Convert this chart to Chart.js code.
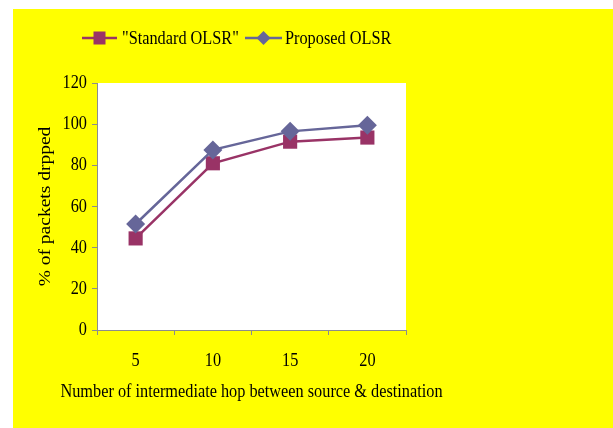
<!DOCTYPE html>
<html>
<head>
<meta charset="utf-8">
<script src="https://cdn.jsdelivr.net/npm/chart.js@4/dist/chart.umd.min.js"></script>
<style>
  html, body { margin: 0; padding: 0; background: #ffffff; }
  canvas { display: block; }
</style>
</head>
<body>
<canvas id="chart" width="613" height="428"></canvas>
<script>
// Hop counts on the x axis
const hops = ['5', '10', '15', '20'];
// % of packets dropped per series
const standardOlsr = [44.5, 81, 91.5, 93.5];
const proposedOlsr = [51.5, 87.5, 96.5, 99.5];
// Series names
const seriesNames = ['"Standard OLSR"', 'Proposed OLSR'];
// Y axis range
const yMin = 0, yMax = 120, yStep = 20;

const STD_COLOR = '#993366';
const PROP_COLOR = '#666699';
const AXIS_COLOR = '#8c8c8c';
const FONT = { family: '"Liberation Serif", "Times New Roman", serif', size: 19.5 };
const SQUEEZE = 0.835; // horizontal squeeze for the narrow serif look

const canvas = document.getElementById('chart');
const ctx2d = canvas.getContext('2d');

// Condensed text: every string is squeezed horizontally around its anchor point
// (in page space, so rotated titles get thinner glyphs rather than shorter text).
const baseFillText = CanvasRenderingContext2D.prototype.fillText;
ctx2d.fillText = function (text, x, y) {
  const t = this.getTransform();
  const px = t.a * x + t.c * y + t.e;
  this.save();
  this.setTransform(new DOMMatrix().translate(px, 0).scale(SQUEEZE, 1).translate(-px, 0).multiply(t));
  baseFillText.call(this, text, x, y);
  this.restore();
};

// Page, yellow panel and white plot area
const backgroundPlugin = {
  id: 'panels',
  beforeDraw(chart) {
    const { ctx, chartArea } = chart;
    ctx.save();
    ctx.fillStyle = '#ffffff';
    ctx.fillRect(0, 0, chart.width, chart.height);
    ctx.fillStyle = '#ffff00';
    ctx.fillRect(13, 9, chart.width - 13, chart.height - 9);
    ctx.fillStyle = '#ffffff';
    ctx.fillRect(chartArea.left, chartArea.top,
                 chartArea.right - chartArea.left, chartArea.bottom - chartArea.top);
    ctx.restore();
  }
};

// Line-and-marker legend across the top
const legendPlugin = {
  id: 'lineLegend',
  afterDraw(chart) {
    const { ctx } = chart;
    const y = 38;
    ctx.save();
    ctx.lineWidth = 2.5;
    // Standard OLSR entry
    ctx.strokeStyle = STD_COLOR;
    ctx.beginPath(); ctx.moveTo(82, y); ctx.lineTo(117, y); ctx.stroke();
    ctx.fillStyle = STD_COLOR;
    ctx.fillRect(99.5 - 6, y - 6.5, 12, 13);
    // Proposed OLSR entry
    ctx.strokeStyle = PROP_COLOR;
    ctx.beginPath(); ctx.moveTo(245, y); ctx.lineTo(282, y); ctx.stroke();
    ctx.fillStyle = PROP_COLOR;
    ctx.beginPath();
    ctx.moveTo(263.5, y - 7); ctx.lineTo(270.5, y); ctx.lineTo(263.5, y + 7); ctx.lineTo(256.5, y);
    ctx.closePath(); ctx.fill();
    // Labels
    ctx.fillStyle = '#000000';
    ctx.font = `${FONT.size}px ${FONT.family}`;
    ctx.textBaseline = 'middle';
    ctx.textAlign = 'left';
    ctx.fillText(seriesNames[0], 122, y + 1);
    ctx.fillText(seriesNames[1], 285, y + 1);
    ctx.restore();
  }
};

new Chart(canvas, {
  type: 'line',
  data: {
    labels: hops,
    datasets: [
      {
        label: seriesNames[1],
        data: proposedOlsr,
        borderColor: PROP_COLOR,
        backgroundColor: PROP_COLOR,
        borderWidth: 2.5,
        pointStyle: 'rectRot',
        pointRadius: 9.5,
        pointBorderWidth: 0,
        pointBackgroundColor: PROP_COLOR,
        tension: 0,
        order: 0
      },
      {
        label: seriesNames[0],
        data: standardOlsr,
        borderColor: STD_COLOR,
        backgroundColor: STD_COLOR,
        borderWidth: 2.5,
        pointStyle: 'rect',
        pointRadius: 10,
        pointBorderWidth: 0,
        pointBackgroundColor: STD_COLOR,
        tension: 0,
        order: 1
      }
    ]
  },
  options: {
    responsive: false,
    animation: false,
    layout: { padding: { top: 83, right: 207, left: 0, bottom: 0 } },
    plugins: {
      legend: { display: false },
      tooltip: { enabled: false }
    },
    scales: {
      x: {
        type: 'category',
        offset: true,
        grid: { offset: true, drawOnChartArea: false, drawTicks: true, tickLength: 5, color: AXIS_COLOR },
        border: { color: AXIS_COLOR, width: 1 },
        ticks: { font: FONT, color: '#000000', padding: 14, maxRotation: 0, autoSkip: false },
        title: {
          display: true,
          text: 'Number of intermediate hop between source & destination',
          font: FONT, color: '#000000',
          padding: { top: 0, bottom: 24 }
        },
        afterFit(scale) { scale.height = 98; }
      },
      y: {
        min: yMin, max: yMax,
        ticks: { stepSize: yStep, font: FONT, color: '#000000', padding: 5 },
        grid: { drawOnChartArea: false, drawTicks: true, tickLength: 5, color: AXIS_COLOR },
        border: { color: AXIS_COLOR, width: 1 },
        title: {
          display: true,
          text: '% of packets drpped',
          font: FONT, color: '#000000',
          padding: { top: 34, bottom: 0 }
        },
        afterFit(scale) { scale.width = 97; }
      }
    }
  },
  plugins: [backgroundPlugin, legendPlugin]
});
</script>
</body>
</html>
